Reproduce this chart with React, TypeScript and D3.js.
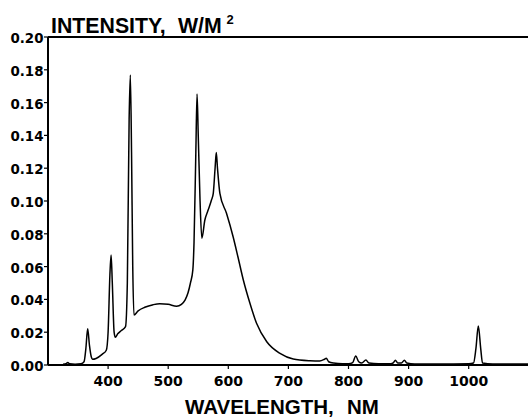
import React from "react";
import * as d3 from "d3";

const wavelengths: number[] = [
  325, 330, 333, 336, 345, 355, 360, 363, 366, 369, 372, 374, 380, 390, 397, 400, 403, 405, 407, 410,
  412, 416, 422, 429, 432, 435, 437, 439, 441, 443, 450, 461, 475, 486, 500, 514, 522, 528, 533, 537,
  541, 543, 546, 548, 550, 553, 556, 561, 566, 572, 575, 578, 580, 582, 586, 597, 608, 616, 625, 636,
  647, 664, 686, 708, 736, 752, 760, 763, 767, 775, 790, 800, 807, 812, 817, 822, 829, 834, 850, 870,
  875, 878, 882, 888, 893, 897, 910, 950, 1000, 1008, 1012, 1016, 1020, 1023, 1040, 1080, 1100,
];
const intensities: number[] = [
  0.0005, 0.0008, 0.0015, 0.0007, 0.0005, 0.0008, 0.002, 0.01, 0.0221, 0.012, 0.005, 0.0035, 0.004, 0.0065, 0.009, 0.02, 0.055, 0.067, 0.05, 0.02,
  0.0169, 0.019, 0.021, 0.0234, 0.05, 0.15, 0.1768, 0.13, 0.06, 0.0305, 0.033, 0.0352, 0.0368, 0.0374, 0.037, 0.0358, 0.037, 0.0396, 0.044, 0.05,
  0.058, 0.075, 0.13, 0.1652, 0.14, 0.1, 0.0773, 0.0884, 0.094, 0.1006, 0.1047, 0.12, 0.1295, 0.12, 0.1047, 0.0925, 0.0782, 0.066, 0.0518, 0.0376,
  0.0254, 0.0142, 0.0071, 0.0037, 0.0026, 0.0024, 0.0035, 0.0041, 0.002, 0.0012, 0.0008, 0.0008, 0.0015, 0.0055, 0.002, 0.0012, 0.003, 0.0012, 0.0008, 0.0008,
  0.0015, 0.0029, 0.0012, 0.0012, 0.0029, 0.0012, 0.0006, 0.0006, 0.0008, 0.0012, 0.01, 0.0238, 0.01, 0.0012, 0.0006, 0.0006, 0.0006,
];
const xTicks: number[] = [400, 500, 600, 700, 800, 900, 1000];
const yTicks: number[] = [0, 0.02, 0.04, 0.06, 0.08, 0.1, 0.12, 0.14, 0.16, 0.18, 0.2];
const yTitle = "INTENSITY,";
const yTitleUnit = "W/M";
const yTitleSup = "2";
const xTitle = "WAVELENGTH,";
const xTitleUnit = "NM";

const W = 528;
const H = 418;

export default function App() {
  const x = d3.scaleLinear().domain([300, 1100]).range([48, 528.8]);
  const y = d3.scaleLinear().domain([0, 0.2]).range([365, 37]);
  const data = wavelengths.map((w, i) => [w, intensities[i]] as [number, number]);
  const line = d3
    .line<[number, number]>()
    .x((d) => x(d[0]))
    .y((d) => y(d[1]))
    .curve(d3.curveMonotoneX);
  const fmt = d3.format(".2f");
  const tickFont = "'DejaVu Sans', sans-serif";
  const titleFont = "'Liberation Sans', Arial, sans-serif";

  return (
    <svg
      width={W}
      height={H}
      style={{ position: "absolute", left: 0, top: 0, background: "#fff" }}
    >
      <rect x={0} y={0} width={W} height={H} fill="#fff" />
      <path d={line(data) ?? ""} fill="none" stroke="#000" strokeWidth={1.5} strokeLinejoin="round" />
      {/* frame */}
      <line x1={x(300)} x2={W} y1={y(0.2)} y2={y(0.2)} stroke="#000" strokeWidth={2} />
      <line x1={x(300)} x2={x(300)} y1={y(0.2)} y2={y(0)} stroke="#000" strokeWidth={2} />
      <line x1={x(300)} x2={W} y1={y(0)} y2={y(0)} stroke="#000" strokeWidth={2} />
      {/* y ticks */}
      {yTicks.map((t) => (
        <g key={"y" + t}>
          <line x1={x(300) - 4} x2={x(300)} y1={y(t)} y2={y(t)} stroke="#000" strokeWidth={1.2} />
          <text
            x={43.5}
            y={y(t) + 6}
            textAnchor="end"
            fontFamily={tickFont}
            fontWeight="bold"
            fontSize={13.4}
            fill="#000"
          >
            {fmt(t)}
          </text>
        </g>
      ))}
      {/* x ticks */}
      {xTicks.map((t) => (
        <g key={"x" + t}>
          <line x1={x(t)} x2={x(t)} y1={y(0)} y2={y(0) + 4} stroke="#000" strokeWidth={1.2} />
          <text
            x={x(t)}
            y={385.5}
            textAnchor="middle"
            fontFamily={tickFont}
            fontWeight="bold"
            fontSize={14}
            fill="#000"
          >
            {t}
          </text>
        </g>
      ))}
      {/* titles */}
      <text x={51} y={33} fontFamily={titleFont} fontWeight="bold" fontSize={21.3} fill="#000">
        {yTitle}
      </text>
      <text x={178} y={33} fontFamily={titleFont} fontWeight="bold" fontSize={21.3} fill="#000">
        {yTitleUnit}
      </text>
      <text x={226.5} y={24} fontFamily={titleFont} fontWeight="bold" fontSize={13} fill="#000">
        {yTitleSup}
      </text>
      <text x={185} y={414} fontFamily={titleFont} fontWeight="bold" fontSize={20.5} fill="#000">
        {xTitle}
      </text>
      <text x={347} y={414} fontFamily={titleFont} fontWeight="bold" fontSize={20.5} fill="#000">
        {xTitleUnit}
      </text>
    </svg>
  );
}
